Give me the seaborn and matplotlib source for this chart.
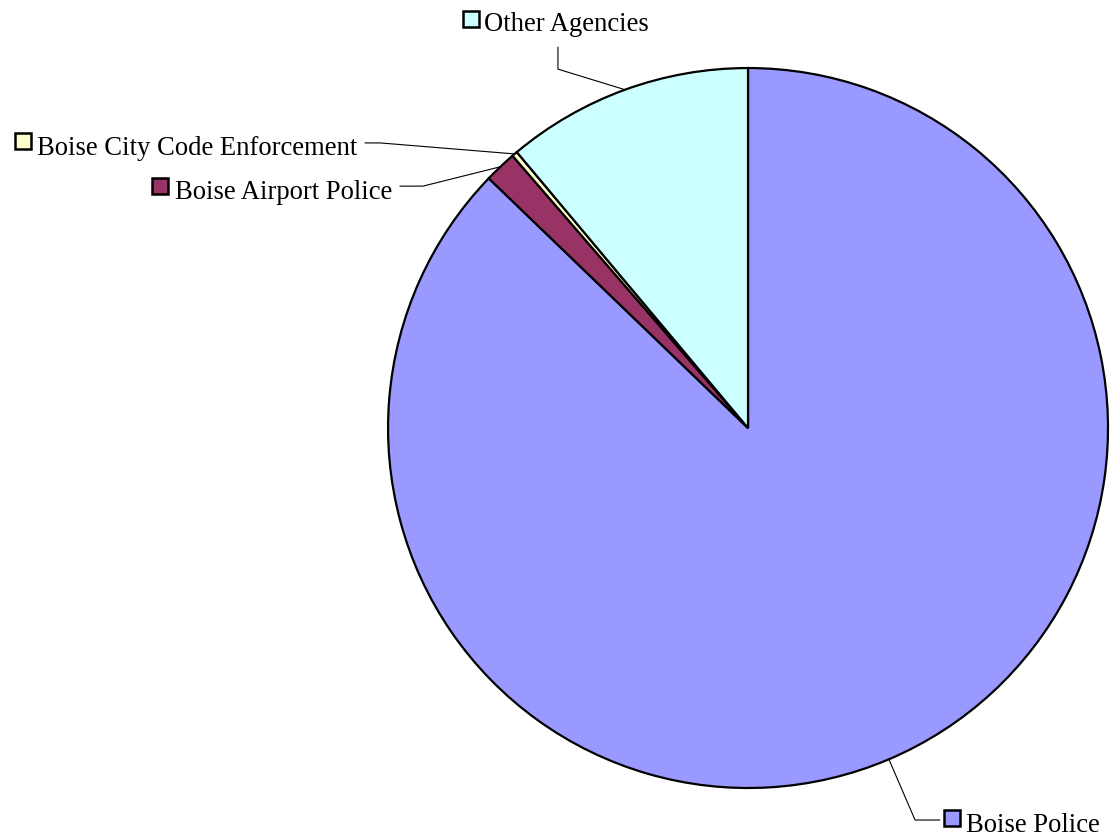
import numpy as np
import matplotlib
matplotlib.use("Agg")
import matplotlib.pyplot as plt
import seaborn as sns

# share of records by agency (percent), clockwise from 12 o'clock
agencies = ["Boise Police", "Boise Airport Police", "Boise City Code Enforcement", "Other Agencies"]
shares = [87.2, 1.45, 0.25, 11.1]
colors = ["#9999FF", "#993366", "#FFFFCC", "#CCFFFF"]

sns.set_theme(style="white")
plt.rcParams["font.family"] = ["Liberation Serif", "DejaVu Serif"]

fig = plt.figure(figsize=(11.1, 8.4), dpi=100)
ax = fig.add_axes([0.3496, 0.0619, 0.6486, 0.8571])

wedges, _ = ax.pie(
    shares,
    colors=colors,
    startangle=90,
    counterclock=False,
    radius=1,
    wedgeprops=dict(edgecolor="black", linewidth=1.6),
)
ax.set_xlim(-1, 1)
ax.set_ylim(-1, 1)
ax.set_aspect("equal")
ax.set_axis_off()

# leader line elbows/ends and label spots (data units, radius = 1)
elbows = [(0.464, -1.089), (-0.903, 0.672), (-1.022, 0.792), (-0.528, 0.997)]
ends = [(0.533, -1.089), (-0.967, 0.672), (-1.064, 0.792), (-0.528, 1.058)]
squares = [(0.567, -1.083), (-1.633, 0.673), (-2.013, 0.797), (-0.769, 1.137)]
text_pos = [(0.606, -1.122), (-1.592, 0.636), (-1.975, 0.758), (-0.733, 1.103)]

for w, name, col, el, en, sq, tp in zip(wedges, agencies, colors, elbows, ends, squares, text_pos):
    mid = np.deg2rad((w.theta1 + w.theta2) / 2)
    edge = (np.cos(mid), np.sin(mid))
    ax.plot([edge[0], el[0], en[0]], [edge[1], el[1], en[1]],
            color="black", lw=0.8, clip_on=False)
    ax.plot(sq[0], sq[1], marker="s", markersize=11, markerfacecolor=col,
            markeredgecolor="black", markeredgewidth=1.8, clip_on=False)
    ax.text(tp[0], tp[1], name, ha="left", va="baseline", fontsize=19.2,
            color="black", clip_on=False)

fig.savefig("out.png", dpi=100, facecolor="white")
